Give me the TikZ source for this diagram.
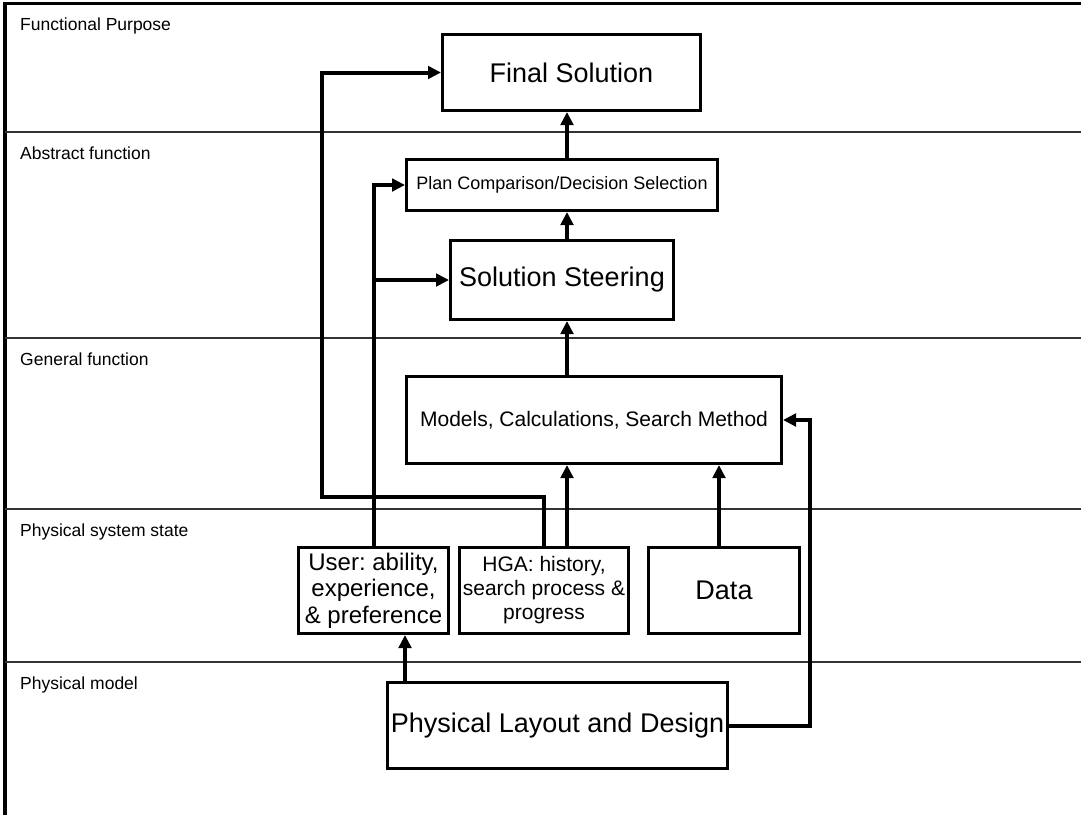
\documentclass[tikz,border=0pt]{standalone}
\usepackage{fontspec}
\setmainfont{Liberation Sans}
\usetikzlibrary{arrows.meta}
\frenchspacing
\begin{document}
\begin{tikzpicture}[x=1pt,y=-1pt,
  box/.style={draw,line width=3pt,inner sep=0pt,align=center},
  conn/.style={line width=4pt,line join=miter,-{Triangle[length=13pt,width=12.5pt]}},
  level/.style={line width=1.2pt,black!80},
  lvltext/.style={anchor=base west,inner sep=0pt,font=\fontsize{17.5}{20}\selectfont},
  big/.style={font=\fontsize{27}{31}\selectfont}
]
\useasboundingbox (0,0) rectangle (1081,815);

% frame and level separators
\draw[line width=3.3pt] (5,815) -- (5,3.5) -- (1081,3.5);
\draw[level] (5,132) -- (1081,132);
\draw[level] (5,338) -- (1081,338);
\draw[level] (5,509) -- (1081,509);
\draw[level] (5,662) -- (1081,662);

% level names
\node[lvltext] (l1) at (20,30) {Functional Purpose};
\node[lvltext] (l2) at (20,159) {Abstract function};
\node[lvltext] (l3) at (20,365) {General function};
\node[lvltext] (l4) at (20,536) {Physical system state};
\node[lvltext] (l5) at (20,689) {Physical model};

% boxes
\node[box,big,minimum width=258pt,minimum height=76pt] (final) at (571.5,72.5) {Final Solution};
\node[box,minimum width=311pt,minimum height=51pt,font=\fontsize{18}{21}\selectfont] (plan) at (562,185) {Plan Comparison/Decision Selection};
\node[box,big,minimum width=223pt,minimum height=79pt] (steer) at (562,280) {Solution Steering};
\node[box,minimum width=375pt,minimum height=87pt,font=\fontsize{21}{24}\selectfont] (models) at (594,420) {Models, Calculations, Search Method};
\node[box,minimum width=150pt,minimum height=86pt,font=\fontsize{24}{26.5}\selectfont] (user) at (373.5,590.5) {User: ability,\\experience,\\\& preference};
\node[box,minimum width=169pt,minimum height=86pt,font=\fontsize{21}{24}\selectfont] (hga) at (544,590.5) {HGA: history,\\search process \&\\progress};
\node[box,big,minimum width=151pt,minimum height=86pt] (data) at (724,590.5) {Data};
\node[box,big,minimum width=340pt,minimum height=86pt] (layout) at (557.5,725.5) {Physical Layout and Design};

% routing points
\coordinate (spine) at (567,0);
\coordinate (dcol) at (719,0);
\coordinate (lcol) at (405,0);
\coordinate (jogR) at (544,497);
\coordinate (jogL) at (322,497);
\coordinate (rturn) at (810,420);

% main upward chain
\draw[conn] (hga.north -| spine) -- (models.south -| spine);
\draw[conn] (data.north -| dcol) -- (models.south -| dcol);
\draw[conn] (models.north -| spine) -- (steer.south -| spine);
\draw[conn] (steer.north -| spine) -- (plan.south -| spine);
\draw[conn] (plan.north -| spine) -- (final.south -| spine);

% search history straight to the final solution
\draw[conn] (hga.north) -- (jogR) -- (jogL) |- (final.west);

% user influence
\draw[conn] (user.north) |- (plan.west);
\draw[conn] (user.north |- steer.west) -- (steer.west);

% physical layout feeds
\draw[conn] (layout.north -| lcol) -- (user.south -| lcol);
\draw[conn] (layout.east) -| (rturn) -- (models.east);
\end{tikzpicture}
\end{document}
